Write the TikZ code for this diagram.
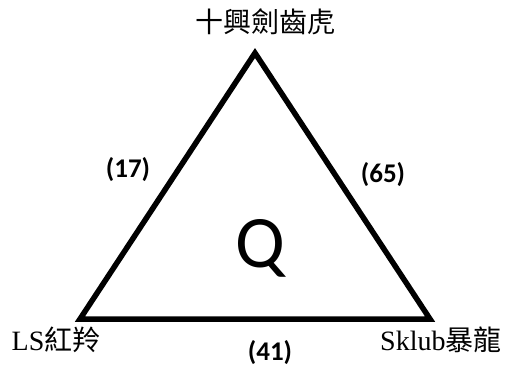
\documentclass[tikz,border=0pt]{standalone}
\usepackage{fontspec}
\setmainfont{Liberation Serif}
\newfontfamily\cjk{Noto Sans CJK TC}
\newfontfamily\calib{Carlito}
\usetikzlibrary{positioning}
\tikzset{
  team/.style={font=\fontsize{28}{28}\selectfont, inner sep=0pt},
  score/.style={font=\calib\bfseries\fontsize{27}{27}\selectfont, inner sep=0pt},
  side/.style={line width=5.5pt, line join=miter},
}
\begin{document}
\begin{tikzpicture}[x=1pt, y=-1pt]
  \useasboundingbox (0,0) rectangle (523,376);
  \coordinate (apex) at (255,53);
  \coordinate (lft) at (80,319);
  \coordinate (rgt) at (430,319);
  \draw[side] (apex) -- (lft) -- (rgt) -- cycle;
  % vertex labels
  \node[team] (tiger) at (265,22) {{\cjk 十興劍齒虎}};
  \node[team] (ls) at (56,340) {LS{\cjk 紅羚}};
  \node[team, anchor=west] (sklub) at (380,340) {Sklub{\cjk 暴龍}};
  % edge scores
  \node[score] (s17) at (128,170) {(17)};
  \node[score] (s65) at (383,175) {(65)};
  \node[score] (s41) at (270,353) {(41)};
  \node[font=\calib\fontsize{74}{74}\selectfont, inner sep=0pt] (q) at (260,248) {Q};
\end{tikzpicture}
\end{document}
